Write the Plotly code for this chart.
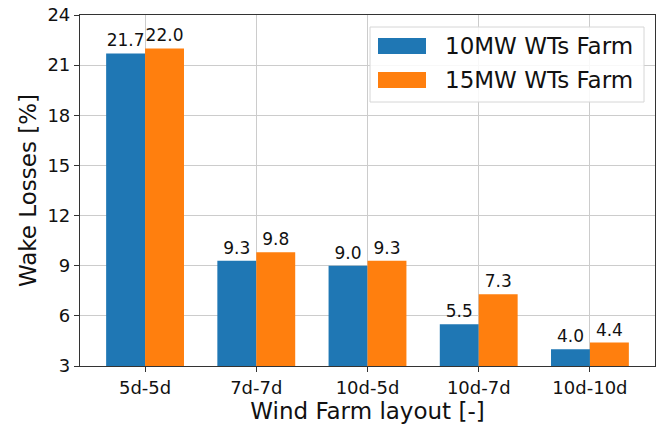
import plotly.graph_objects as go

layouts = ["5d-5d", "7d-7d", "10d-5d", "10d-7d", "10d-10d"]
farm_10mw = [21.7, 9.3, 9.0, 5.5, 4.0]
farm_15mw = [22.0, 9.8, 9.3, 7.3, 4.4]
series_names = ["10MW WTs Farm", "15MW WTs Farm"]
colors = ["#1f77b4", "#ff7f0e"]

FONT = "DejaVu Sans"
W, H = 659, 425
L, R, T, B = 80, 4, 15, 59

fig = go.Figure()
for name, vals, col in zip(series_names, [farm_10mw, farm_15mw], colors):
    fig.add_trace(go.Bar(
        x=layouts, y=vals, name=name,
        marker=dict(color=col, line=dict(width=0)),
        texttemplate="%{y:.1f}", textposition="outside",
        textfont=dict(family=FONT, size=17, color="#111111"),
        cliponaxis=False, showlegend=False,
    ))

axis_line = dict(showline=True, linecolor="#333333", linewidth=1.2, mirror=True,
                 ticks="outside", ticklen=5, tickcolor="#333333",
                 showgrid=True, gridcolor="#cccccc", gridwidth=1,
                 tickfont=dict(family=FONT, size=18, color="#111111"),
                 zeroline=False)

fig.update_layout(
    width=W, height=H,
    margin=dict(l=L, r=R, t=T, b=B),
    plot_bgcolor="white", paper_bgcolor="white",
    barmode="group", bargap=0.3, bargroupgap=0,
    xaxis=dict(**axis_line, range=[-0.585, 4.585],
               title=dict(text="Wind Farm layout [-]", standoff=5,
                          font=dict(family=FONT, size=23, color="#111111"))),
    yaxis=dict(**axis_line, range=[3, 24], tickvals=[3, 6, 9, 12, 15, 18, 21, 24],
               title=dict(text="Wake Losses [%]", standoff=4,
                          font=dict(family=FONT, size=23, color="#111111"))),
)

# legend box drawn with shapes in plot-area coordinates
pw, ph = W - L - R, H - T - B
def px(xp):
    return (xp - L) / pw
def py(yp):
    return (H - B - yp) / ph

fig.add_shape(type="rect", xref="paper", yref="paper",
              x0=px(370), x1=px(644), y0=py(102), y1=py(27),
              line=dict(color="#d6d6d6", width=1), fillcolor="rgba(255,255,255,0.85)",
              layer="above")
for i, (name, col) in enumerate(zip(series_names, colors)):
    yc = 46 + i * 34
    fig.add_shape(type="rect", xref="paper", yref="paper",
                  x0=px(378), x1=px(426), y0=py(yc + 8), y1=py(yc - 8),
                  line=dict(width=0), fillcolor=col, layer="above")
    fig.add_annotation(xref="paper", yref="paper", x=px(443), y=py(yc),
                       text=name, showarrow=False, xanchor="left", yanchor="middle",
                       font=dict(family=FONT, size=23, color="#111111"))

fig.write_html("out.html")
